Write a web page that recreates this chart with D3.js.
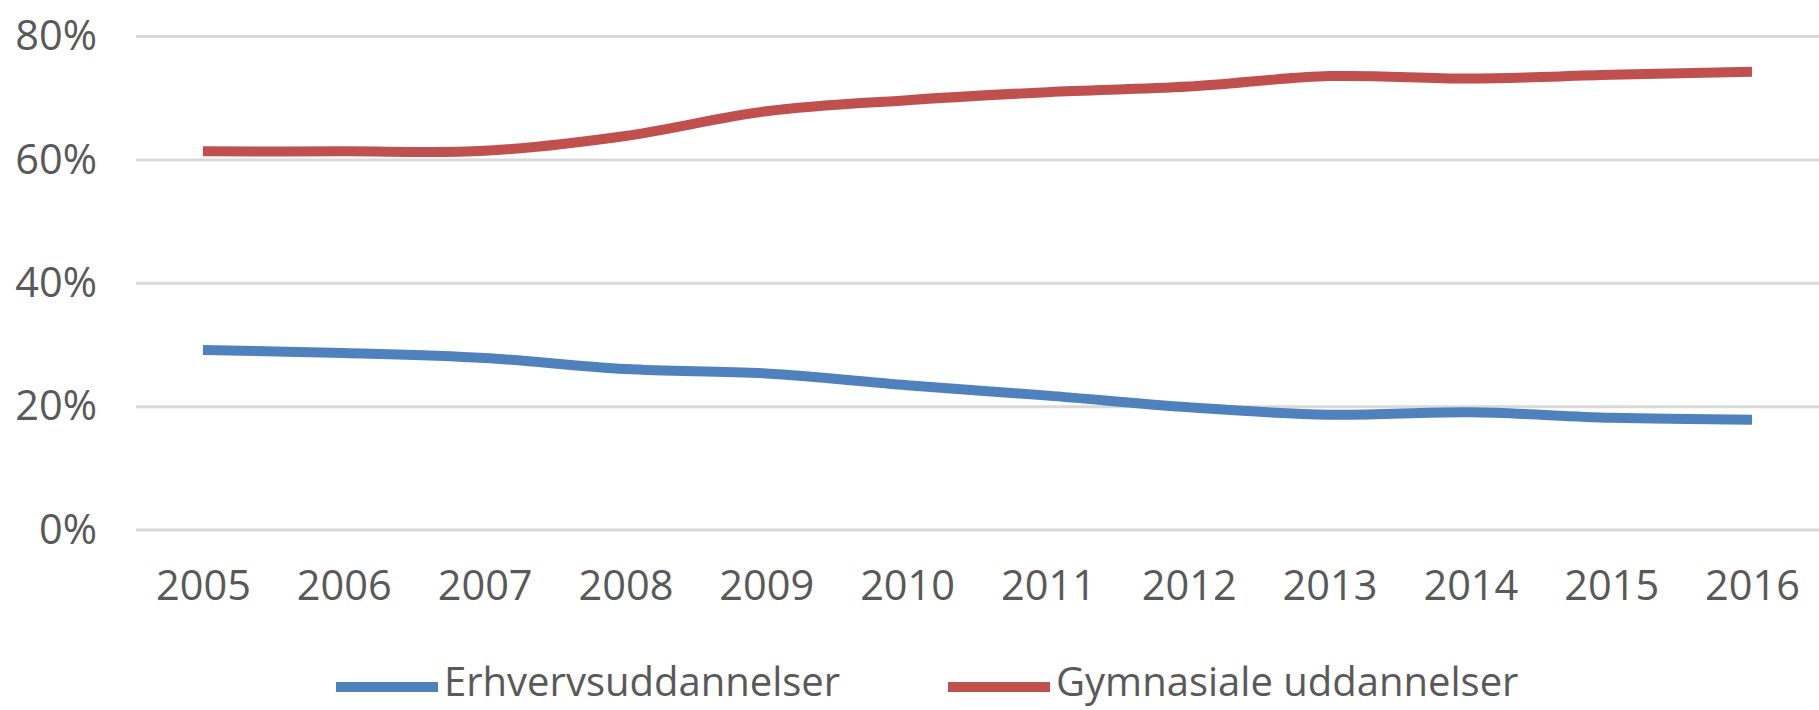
<!DOCTYPE html>
<html>
<head>
<meta charset="utf-8">
<script src="https://cdn.jsdelivr.net/npm/d3@7"></script>
<style>
    html, body { margin: 0; padding: 0; background: #ffffff; }
    svg { display: block; }
</style>
</head>
<body>
<svg id="chart"></svg>
<script>
const years = ["2005", "2006", "2007", "2008", "2009", "2010", "2011", "2012", "2013", "2014", "2015", "2016"];
const erhverv = [29.1, 28.6, 27.8, 26.0, 25.3, 23.4, 21.7, 19.8, 18.6, 19.0, 18.1, 17.8];
const gymnasiale = [61.3, 61.3, 61.4, 63.8, 67.8, 69.6, 70.9, 71.8, 73.5, 73.1, 73.7, 74.2];
const yTicks = [0, 20, 40, 60, 80];
const seriesNames = ["Erhvervsuddannelser", "Gymnasiale uddannelser"];

document.addEventListener("DOMContentLoaded", function() {
    const width = 1819;
    const height = 710;
    const font = "'Open Sans', sans-serif";
    const textColor = "#595959";

    const svg = d3.select("#chart")
        .attr("width", width)
        .attr("height", height);

    const x = d3.scalePoint()
        .domain(years)
        .range([203, 1752]);

    const y = d3.scaleLinear()
        .domain([0, 80])
        .range([529.5, 36]);

    // gridlines + y labels
    const yAxis = svg.append("g")
        .attr("transform", "translate(136,0)")
        .call(d3.axisLeft(y)
            .tickValues(yTicks)
            .tickFormat(d => d + "%")
            .tickSize(-(width - 136))
            .tickPadding(39));

    yAxis.select(".domain").remove();
    yAxis.selectAll(".tick line")
        .attr("stroke", "#d9d9d9")
        .attr("stroke-width", 3);
    yAxis.selectAll(".tick text")
        .attr("fill", textColor)
        .attr("font-family", font)
        .attr("font-size", "41.5px")
        .attr("dy", "0.33em");

    // year labels
    const xAxis = svg.append("g")
        .attr("transform", "translate(0,600)")
        .call(d3.axisBottom(x).tickSize(0).tickPadding(0));

    xAxis.select(".domain").remove();
    xAxis.selectAll(".tick text")
        .attr("fill", textColor)
        .attr("font-family", font)
        .attr("font-size", "41.5px")
        .attr("dy", 0);

    const line = d3.line()
        .x((d, i) => x(years[i]))
        .y(d => y(d))
        .curve(d3.curveCatmullRom);

    const series = [
        { name: seriesNames[0], values: erhverv, color: "#4f81bd" },
        { name: seriesNames[1], values: gymnasiale, color: "#c0504d" }
    ];

    svg.append("g")
        .selectAll("path")
        .data(series)
        .join("path")
        .attr("d", d => line(d.values))
        .attr("fill", "none")
        .attr("stroke", d => d.color)
        .attr("stroke-width", 10)
        .attr("stroke-linejoin", "round");

    // legend
    const legendX = [336, 948];
    const legend = svg.append("g")
        .selectAll("g")
        .data(series)
        .join("g")
        .attr("transform", (d, i) => "translate(" + legendX[i] + ",687)");

    legend.append("line")
        .attr("x1", 0)
        .attr("x2", 102)
        .attr("y1", 0)
        .attr("y2", 0)
        .attr("stroke", d => d.color)
        .attr("stroke-width", 10);

    legend.append("text")
        .attr("x", 108)
        .attr("y", 9)
        .attr("fill", textColor)
        .attr("font-family", font)
        .attr("font-size", "40px")
        .text(d => d.name);
});
</script>
</body>
</html>
